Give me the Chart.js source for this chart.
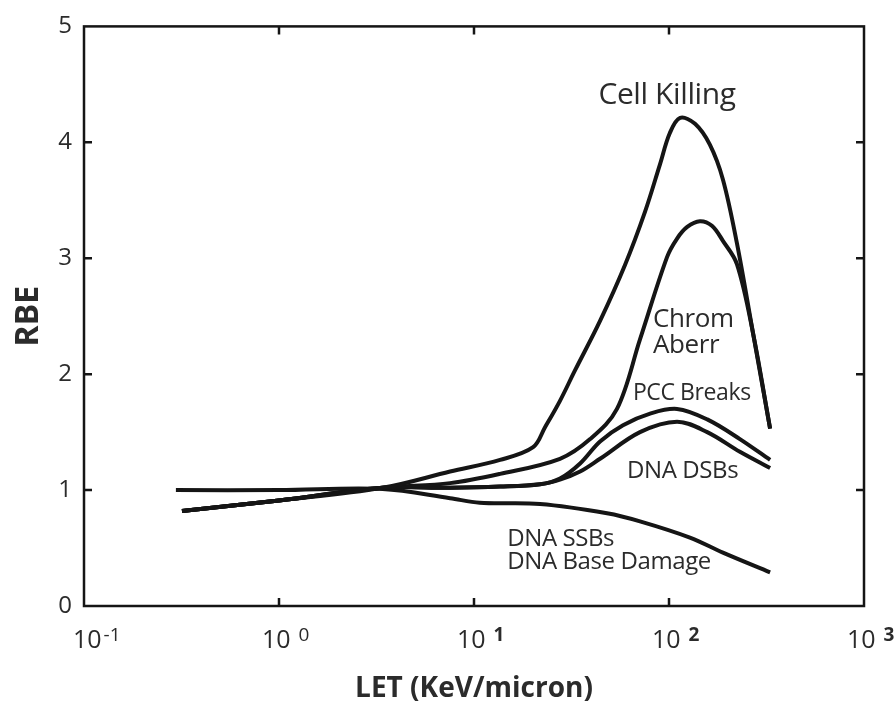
<!DOCTYPE html>
<html>
<head>
<meta charset="utf-8">
<title>RBE vs LET</title>
<script src="https://cdn.jsdelivr.net/npm/chart.js@4.4.1/dist/chart.umd.min.js"></script>
<style>
  html, body { margin: 0; padding: 0; background: #fff; }
  canvas { display: block; }
</style>
</head>
<body>
<canvas id="chart" width="894" height="709"></canvas>
<script>
// LET in keV/micron, RBE
const cellKillingLet = [0.318, 1.0, 3.4, 7.54, 13.6, 20.1, 23.1, 27.6, 32.9, 44.3, 59.4, 75.3, 89.9, 101, 114, 136, 162, 189, 223, 270, 330];
const cellKillingRbe = [0.82, 0.91, 1.02, 1.16, 1.26, 1.37, 1.54, 1.77, 2.03, 2.46, 2.94, 3.40, 3.81, 4.08, 4.21, 4.16, 3.98, 3.68, 3.13, 2.35, 1.53];

const chromLet = [0.318, 1.0, 3.4, 7.54, 13.6, 27.6, 39.4, 54.1, 71.0, 97.7, 110, 124, 144, 166, 189, 223, 270, 330];
const chromRbe = [0.82, 0.91, 1.02, 1.06, 1.14, 1.27, 1.44, 1.70, 2.30, 3.01, 3.17, 3.27, 3.32, 3.28, 3.15, 2.95, 2.35, 1.53];

const pccLet = [0.318, 1.0, 3.4, 7.54, 13.6, 21.8, 27.6, 35.0, 44.3, 58.1, 80, 110, 157, 231, 330];
const pccRbe = [0.82, 0.91, 1.02, 1.02, 1.03, 1.05, 1.10, 1.23, 1.42, 1.56, 1.66, 1.70, 1.61, 1.44, 1.26];

const dsbLet = [0.318, 1.0, 3.4, 7.54, 13.6, 21.8, 27.6, 35.0, 44.3, 71, 110, 157, 231, 330];
const dsbRbe = [0.82, 0.91, 1.02, 1.02, 1.03, 1.05, 1.09, 1.16, 1.27, 1.50, 1.59, 1.50, 1.33, 1.19];

const ssbLet = [0.296, 1.0, 3.4, 7.54, 10.7, 21.8, 48.1, 71, 128, 189, 330];
const ssbRbe = [1.0, 1.0, 1.01, 0.93, 0.89, 0.88, 0.80, 0.73, 0.59, 0.46, 0.29];

const xTickValues = [0.1, 1, 10, 100, 1000];
const xTickExponents = ['-1', '0', '1', '2', '3'];
const yTickValues = [0, 1, 2, 3, 4, 5];

function toPoints(xs, ys) {
    return xs.map((x, i) => ({ x: x, y: ys[i] }));
}

const ink = '#151515';
const textInk = '#2b2b2b';

// curve captions, anchored in data units (LET, RBE) at the text baseline
const captions = [
    { text: 'Cell Killing', x: 97.7, y: 4.33, align: 'center', size: 30 },
    { text: 'Chrom', x: 82.8, y: 2.406, align: 'left', size: 26 },
    { text: 'Aberr', x: 82.8, y: 2.184, align: 'left', size: 26 },
    { text: 'PCC Breaks', x: 65.3, y: 1.775, align: 'left', size: 23 },
    { text: 'DNA DSBs', x: 60.9, y: 1.10, align: 'left', size: 24 },
    { text: 'DNA SSBs', x: 14.8, y: 0.52, align: 'left', size: 24 },
    { text: 'DNA Base Damage', x: 14.8, y: 0.315, align: 'left', size: 24 }
];

const framePlugin = {
    id: 'frame',
    beforeDatasetsDraw(chart) {
        const ctx = chart.ctx;
        const a = chart.chartArea;
        const xs = chart.scales.x;
        const ys = chart.scales.y;
        ctx.save();
        ctx.strokeStyle = ink;
        ctx.lineWidth = 2.5;
        ctx.strokeRect(a.left, a.top, a.right - a.left, a.bottom - a.top);
        const len = 8;
        ctx.beginPath();
        for (let i = 1; i < yTickValues.length - 1; i++) {
            const py = ys.getPixelForValue(yTickValues[i]);
            ctx.moveTo(a.left, py);
            ctx.lineTo(a.left + len, py);
            ctx.moveTo(a.right, py);
            ctx.lineTo(a.right - len, py);
        }
        for (let i = 1; i < xTickValues.length - 1; i++) {
            const px = xs.getPixelForValue(xTickValues[i]);
            ctx.moveTo(px, a.bottom);
            ctx.lineTo(px, a.bottom - len);
            ctx.moveTo(px, a.top);
            ctx.lineTo(px, a.top + len);
        }
        ctx.stroke();

        // x tick labels: "10" with a raised exponent
        ctx.fillStyle = textInk;
        ctx.textBaseline = 'alphabetic';
        ctx.textAlign = 'left';
        for (let i = 0; i < xTickValues.length; i++) {
            const px = xs.getPixelForValue(xTickValues[i]);
            const start = px - (i === 0 ? 11 : 17);
            ctx.font = '25px "Open Sans"';
            const wBase = ctx.measureText('10').width;
            ctx.fillText('10', start, a.bottom + 42);
            ctx.font = (i >= 2 ? 'bold ' : '') + '19px "Open Sans"';
            ctx.fillText(xTickExponents[i], start + wBase + (i === 0 ? 2 : 8), a.bottom + 35);
        }
        ctx.restore();
    },
    afterDatasetsDraw(chart) {
        const ctx = chart.ctx;
        const xs = chart.scales.x;
        const ys = chart.scales.y;
        ctx.save();
        ctx.fillStyle = textInk;
        ctx.textBaseline = 'alphabetic';
        ctx.letterSpacing = '-0.4px';
        captions.forEach(c => {
            ctx.font = c.size + 'px "Open Sans"';
            ctx.textAlign = c.align;
            ctx.fillText(c.text, xs.getPixelForValue(c.x), ys.getPixelForValue(c.y));
        });
        ctx.restore();
    }
};

const series = [
    toPoints(cellKillingLet, cellKillingRbe),
    toPoints(chromLet, chromRbe),
    toPoints(pccLet, pccRbe),
    toPoints(dsbLet, dsbRbe),
    toPoints(ssbLet, ssbRbe)
];
const seriesNames = ['Cell Killing', 'Chrom Aberr', 'PCC Breaks', 'DNA DSBs', 'DNA SSBs / Base Damage'];

const ctx = document.getElementById('chart');
new Chart(ctx, {
    type: 'line',
    data: {
        datasets: series.map((pts, i) => ({
            label: seriesNames[i],
            data: pts,
            borderColor: ink,
            borderWidth: 4,
            borderCapStyle: 'butt',
            tension: 0.35,
            pointRadius: 0,
            fill: false
        }))
    },
    options: {
        responsive: false,
        animation: false,
        devicePixelRatio: 1,
        layout: { padding: { top: 20, right: 30, left: 0, bottom: 0 } },
        plugins: {
            legend: { display: false },
            tooltip: { enabled: false }
        },
        scales: {
            x: {
                type: 'logarithmic',
                min: 0.1,
                max: 1000,
                grid: { display: false, drawTicks: false },
                border: { display: false },
                ticks: { display: false },
                afterBuildTicks: s => { s.ticks = xTickValues.map(v => ({ value: v })); },
                afterFit: s => { s.height = 103; },
                title: {
                    display: true,
                    text: 'LET (KeV/micron)',
                    color: textInk,
                    font: { family: 'Open Sans', size: 28, weight: 'bold', lineHeight: 1.2 },
                    padding: { top: 0, bottom: 3 }
                }
            },
            y: {
                min: 0,
                max: 5,
                grid: { display: false, drawTicks: false },
                border: { display: false },
                afterBuildTicks: s => { s.ticks = yTickValues.map(v => ({ value: v })); },
                ticks: {
                    padding: 12,
                    color: textInk,
                    font: { family: 'Open Sans', size: 24 }
                },
                afterFit: s => { s.width = 84; },
                title: {
                    display: true,
                    text: 'RBE',
                    color: textInk,
                    font: { family: 'Open Sans', size: 32, weight: 'bold', lineHeight: 1.2 },
                    padding: { top: 10, bottom: 0 }
                }
            }
        }
    },
    plugins: [framePlugin]
});
</script>
</body>
</html>
